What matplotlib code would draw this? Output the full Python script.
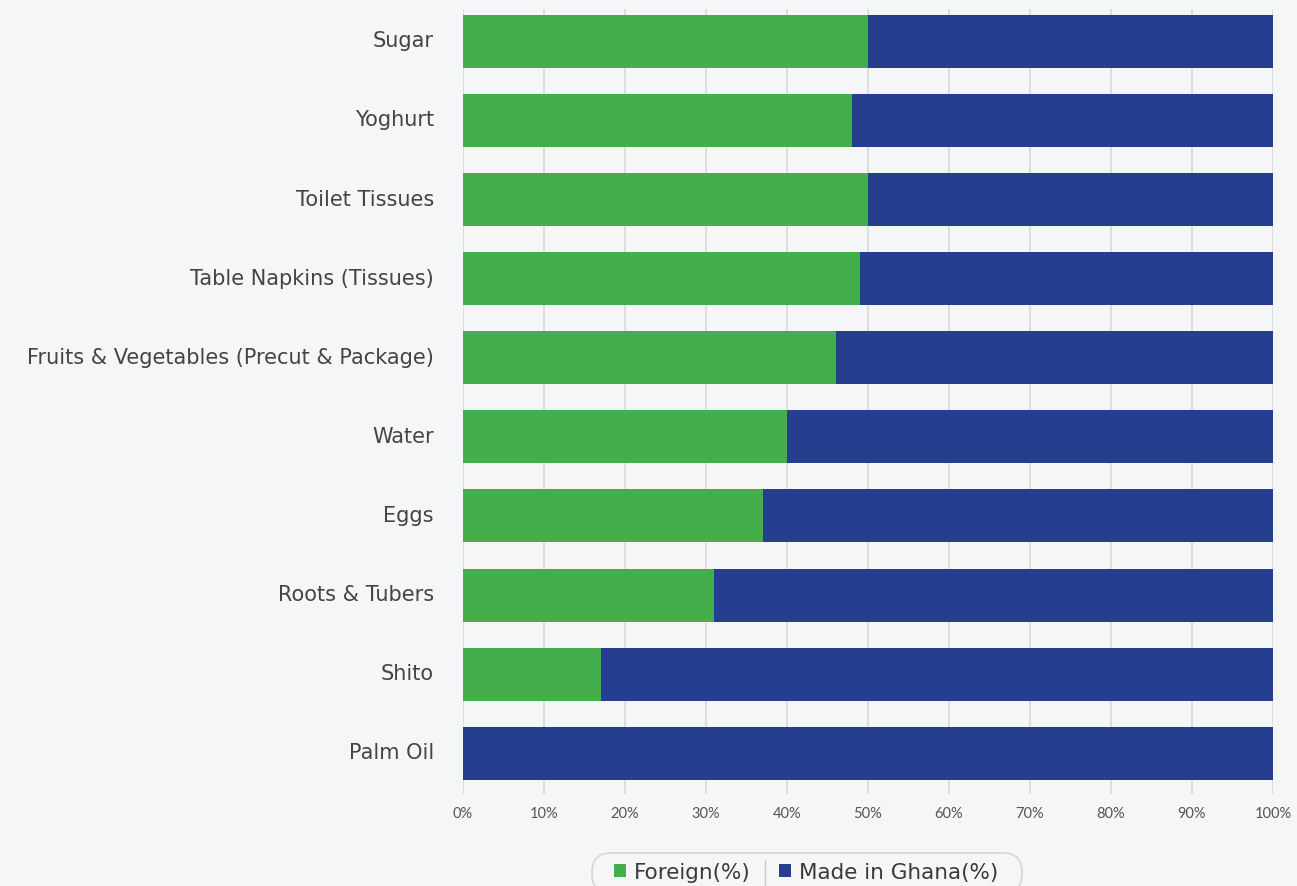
import matplotlib
matplotlib.use("Agg")
import matplotlib.pyplot as plt
from matplotlib.lines import Line2D
from matplotlib.patches import FancyBboxPatch
from matplotlib import transforms

categories = ["Sugar", "Yoghurt", "Toilet Tissues", "Table Napkins (Tissues)",
              "Fruits & Vegetables (Precut & Package)", "Water", "Eggs",
              "Roots & Tubers", "Shito", "Palm Oil"]
foreign = [50, 48, 50, 49, 46, 40, 37, 31, 17, 0]
made_in_ghana = [50, 52, 50, 51, 54, 60, 63, 69, 83, 100]
series_names = ["Foreign(%)", "Made in Ghana(%)"]
xtick_values = [0, 10, 20, 30, 40, 50, 60, 70, 80, 90, 100]
xtick_labels = [f"{v}%" for v in xtick_values]

GREEN = "#43AE4B"
BLUE = "#253F8E"
BG = "#F5F6F8"

W, H = 1297, 887
fig = plt.figure(figsize=(W / 100, H / 100), dpi=100, facecolor=BG)
plt.rcParams['font.family'] = ['DejaVu Sans']

left, right, top, bottom = 463, 1273, 9.5, 795
ax = fig.add_axes([left / W, 1 - bottom / H, (right - left) / W, (bottom - top) / H])
ax.set_facecolor(BG)

y = list(range(len(categories)))
h = 0.67
b1 = ax.barh(y, foreign, height=h, color=GREEN, label=series_names[0], zorder=3)
b2 = ax.barh(y, made_in_ghana, left=foreign, height=h, color=BLUE, label=series_names[1], zorder=3)

ax.set_xlim(0, 100)
ax.set_ylim(9.515, -0.4145)
ax.set_yticks(y)
ax.set_yticklabels(categories, fontsize=15, color="#444444")
ax.tick_params(axis="y", length=0, pad=21)
shift = transforms.ScaledTranslation(0, 3 / 100, fig.dpi_scale_trans)
for lab in ax.get_yticklabels():
    lab.set_transform(lab.get_transform() + shift)
ax.set_xticks(xtick_values)
ax.set_xticklabels(xtick_labels, fontsize=10.5, color="#555555", family=['Lato', 'DejaVu Sans'])
ax.tick_params(axis="x", length=0, pad=9)
ax.grid(axis="x", color="#d9d9d9", linewidth=1.2, zorder=0)
for s in ax.spines.values():
    s.set_visible(False)

# legend pill frame (pixel coordinates)
bx0, bx1, by0, by1 = 592, 1022, 854, 894
pill = FancyBboxPatch((bx0, H - by1), bx1 - bx0, by1 - by0,
                      boxstyle="round,pad=0,rounding_size=19",
                      transform=transforms.IdentityTransform(), facecolor=BG,
                      edgecolor="#d6d6d6", linewidth=1.2, zorder=1)
fig.add_artist(pill)

leg = fig.legend(handles=[b1, b2], labels=series_names, loc="center",
                 bbox_to_anchor=(806 / W, 1 - 873 / H), ncol=2, frameon=False,
                 fontsize=15.5, handlelength=0.55, handleheight=0.55, handletextpad=0.35,
                 columnspacing=1.35, borderpad=0.2, labelcolor="#3a3a3a")
leg.set_zorder(3)

fig.canvas.draw()
r = fig.canvas.get_renderer()
t0 = leg.get_texts()[0].get_window_extent(r)
p1 = leg.legend_handles[1].get_window_extent(r)
xm = (t0.x1 + p1.x0) / 2 / W
fig.add_artist(Line2D([xm, xm], [1 - 862 / H, 1 - 886 / H],
                      transform=fig.transFigure, color="#cccccc", linewidth=1, zorder=3))

fig.savefig("out.png", dpi=100, facecolor=BG)
